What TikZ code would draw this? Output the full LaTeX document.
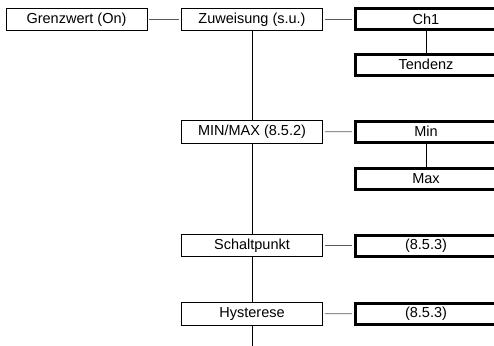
\documentclass[tikz,border=0pt]{standalone}
\usepackage{fontspec}
\setmainfont{Liberation Sans}
\usepackage{tikz}
\usetikzlibrary{calc}

\begin{document}
\begin{tikzpicture}[x=1pt, y=-1pt]

% Styles
\tikzset{
  menu/.style={draw, line width=0.8pt, minimum width=141pt, minimum height=22.5pt,
    inner sep=0pt, font=\fontsize{14.5}{16}\selectfont},
  value/.style={draw, line width=3pt, minimum width=141pt, minimum height=21pt,
    inner sep=0pt, font=\fontsize{14.5}{16}\selectfont},
  link/.style={line width=0.9pt, black!65, shorten <=2pt, shorten >=2pt},
  trunk/.style={line width=0.8pt}
}

\useasboundingbox (0,0) rectangle (494,345);

% Left column
\node[menu] (grenz) at (76.5,19.5) {Grenzwert (On)};
\node[menu] (zuw)   at (252,19.5) {Zuweisung (s.u.)};
\node[menu] (minmax) at (252,132) {MIN/MAX (8.5.2)};
\node[menu] (schalt) at (252,245.5) {Schaltpunkt};
\node[menu] (hyst)   at (252,314) {Hysterese};
\coordinate (tail) at (252,346);

% Right column
\node[value] (ch)   at (426,19.5) {Ch1};
\node[value] (tend) at (426,64.5) {Tendenz};
\node[value] (min)  at (426,131.5) {Min};
\node[value] (max)  at (426,178.5) {Max};
\node[value] (sp)   at (426,245.5) {(8.5.3)};
\node[value] (hy)   at (426,313.5) {(8.5.3)};

% Horizontal links
\draw[link] (grenz) -- (zuw);
\draw[link] (zuw) -- (ch);
\draw[link] (minmax) -- (min);
\draw[link] (schalt) -- (sp);
\draw[link] (hyst) -- (hy);

% Vertical lines
\draw[trunk] (zuw) -- (minmax);
\draw[trunk] (minmax) -- (schalt);
\draw[trunk] (schalt) -- (hyst);
\draw[trunk] (hyst) -- (tail);
\draw[trunk] (ch) -- (tend);
\draw[trunk] (min) -- (max);

\end{tikzpicture}
\end{document}
